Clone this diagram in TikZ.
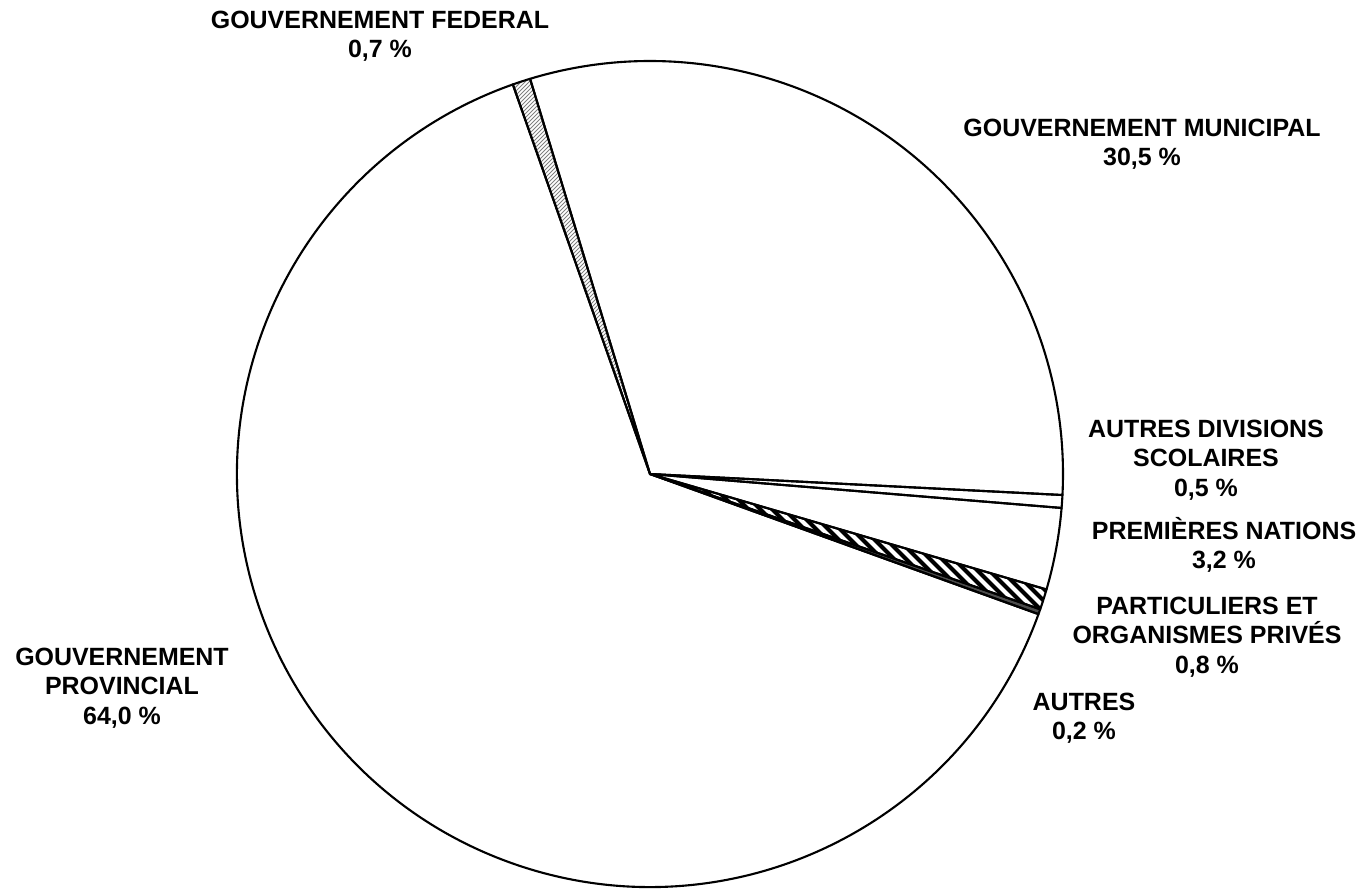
\documentclass[tikz,border=0pt]{standalone}
\usepackage{fontspec}
\setmainfont{Liberation Sans}
\usetikzlibrary{positioning}
\tikzstyle{slicetext} = [align=center, inner sep=0pt,
    font=\bfseries\fontsize{14.2}{16.8}\selectfont]
\tikzstyle{wedge} = [draw, line width=1.2pt, line join=round]

\begin{document}
\begin{tikzpicture}[x=0.02cm, y=0.02cm]
	\useasboundingbox (0,0) rectangle (1366,889);
	\coordinate (centre) at (650,415);

	% federal, thin grey hatching
	\begin{scope}
		\clip (centre) -- ++(109.4:413) arc[start angle=109.4, end angle=106.88, radius=413] -- cycle;
		\foreach \i in {0,4,...,800}
			\draw[gray, line width=0.6pt] (\i,350) -- ++(500,500);
	\end{scope}
	% particuliers, thick stripes
	\begin{scope}
		\clip (centre) -- ++(-16.24:413) arc[start angle=-16.24, end angle=-19.12, radius=413] -- cycle;
		\foreach \i in {400,412,...,1100}
			\draw[black, line width=2.4pt] (\i,500) -- ++(400,-400);
	\end{scope}
	% autres
	\fill[black!70] (centre) -- ++(-19.12:413) arc[start angle=-19.12, end angle=-19.84, radius=413] -- cycle;

	\foreach \a/\b in {109.4/106.88, 106.88/-2.92, -2.92/-4.72, -4.72/-16.24,
	                   -16.24/-19.12, -19.12/-19.84, -19.84/-250.6}
		\draw[wedge] (centre) -- ++(\a:413) arc[start angle=\a, end angle=\b, radius=413] -- cycle;

	\node [slicetext] (federal) at (380,853) {GOUVERNEMENT FEDERAL\\0,7 \%};
	\node [slicetext] (municipal) at (1142,745) {GOUVERNEMENT MUNICIPAL\\30,5 \%};
	\node [slicetext] (divisions) at (1206,429) {AUTRES DIVISIONS\\SCOLAIRES\\0,5 \%};
	\node [slicetext] (nations) at (1224,344) {PREMIÈRES NATIONS\\3,2 \%};
	\node [slicetext] (prives) at (1207,252) {PARTICULIERS ET\\ORGANISMES PRIVÉS\\0,8 \%};
	\node [slicetext] (autres) at (1084,171) {AUTRES\\0,2 \%};
	\node [slicetext] (provincial) at (122,201) {GOUVERNEMENT\\PROVINCIAL\\64,0 \%};
\end{tikzpicture}
\end{document}
